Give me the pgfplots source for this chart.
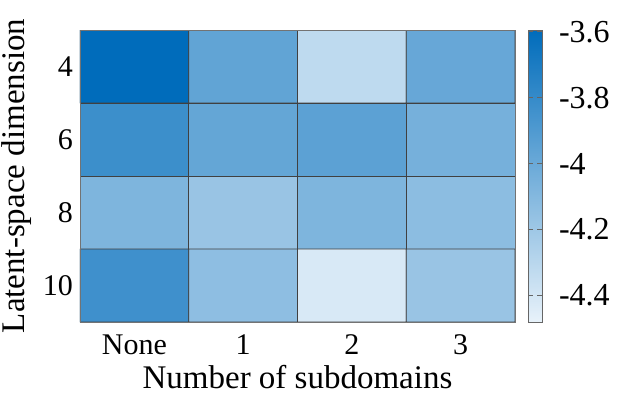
\documentclass[border=0pt]{standalone}
\usepackage{fontspec}
\setmainfont{Liberation Serif}
\usepackage{pgfplots}
\pgfplotsset{compat=1.18}
\begin{document}
\begin{tikzpicture}
\useasboundingbox (-40pt,-39pt) rectangle (270pt,161pt);
\begin{axis}[
  at={(0,0)}, anchor=south west,
  scale only axis, width=217.5pt, height=146pt,
  xmin=-0.5, xmax=3.5, ymin=-0.5, ymax=3.5, y dir=reverse,
  xtick={0,1,2,3}, xticklabels={None,1,2,3},
  ytick={0,1,2,3}, yticklabels={4,6,8,10},
  major tick length=0pt,
  tick label style={font=\fontsize{15}{15}\selectfont},
  xticklabel style={yshift=-3pt},
  label style={font=\fontsize{16.5}{17}\selectfont},
  xlabel style={yshift=2pt},
  ylabel style={yshift=-1pt},
  xlabel={Number of subdomains}, ylabel={Latent-space dimension},
  axis line style={black!55},
  colormap={mb}{rgb255=(232,242,250) rgb255=(0,108,187)},
  point meta min=-4.48, point meta max=-3.595,
  /pgf/number format/assume math mode=true,
  colorbar,
  colorbar style={
    at={(1.0299,1)}, anchor=north west,
    width=7pt,
    ytick={-4.4,-4.2,-4,-3.8,-3.6},
    yticklabels={-4.4,-4.2,-4,-3.8,-3.6},
    yticklabel pos=right,
    tick align=inside,
    major tick length=2.5pt,
    ytick style={black!60},
    axis line style={black!60},
    yticklabel style={font=\fontsize{16}{16}\selectfont, xshift=5pt},
    /pgf/number format/assume math mode=true,
  },
]
\addplot[matrix plot, shader=faceted, faceted color=black!75, mesh/cols=4, point meta=explicit] table[meta=c] {
x y c
0 0 -3.60
1 0 -3.97
2 0 -4.32
3 0 -3.99
0 1 -3.83
1 1 -3.98
2 1 -3.95
3 1 -4.05
0 2 -4.08
1 2 -4.18
2 2 -4.08
3 2 -4.13
0 3 -3.84
1 3 -4.14
2 3 -4.42
3 3 -4.18
};
\end{axis}
\end{tikzpicture}
\end{document}
